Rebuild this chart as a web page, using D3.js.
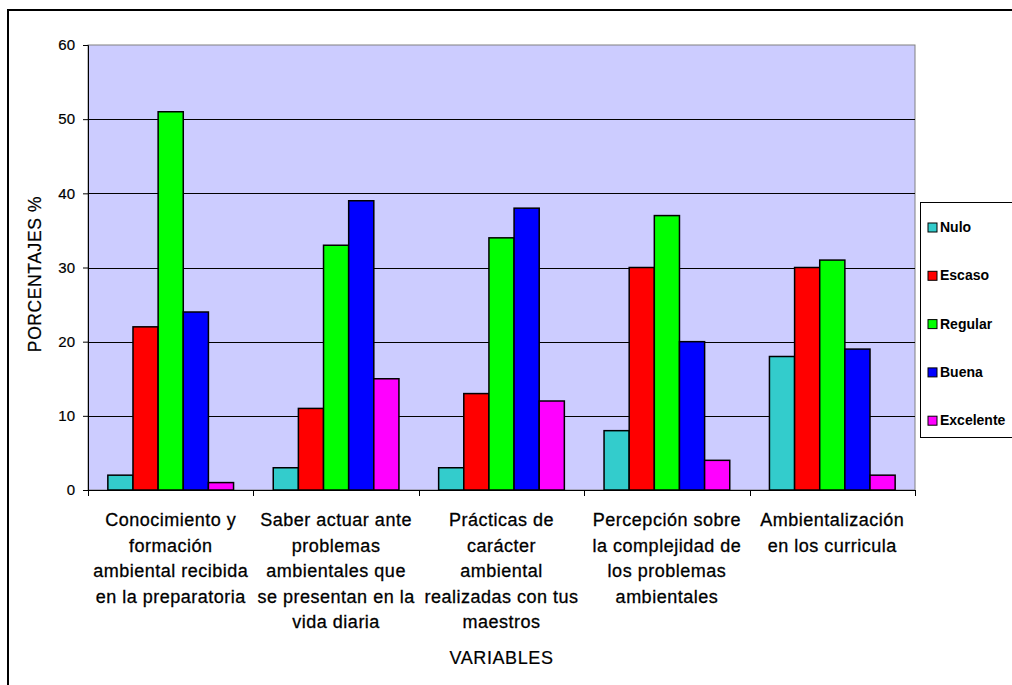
<!DOCTYPE html>
<html>
<head>
<meta charset="utf-8">
<script src="https://cdn.jsdelivr.net/npm/d3@7"></script>
<style>
  body { margin: 0; background: #fff; }
  svg text { font-family: "Liberation Sans", Arial, sans-serif; fill: #000; }
</style>
</head>
<body>
<script>
// categorias del eje X (cada una partida en lineas como en el original)
var variables = [
  ["Conocimiento y", "formación", "ambiental recibida", "en la preparatoria"],
  ["Saber actuar ante", "problemas", "ambientales que", "se presentan en la", "vida diaria"],
  ["Prácticas de", "carácter", "ambiental", "realizadas con tus", "maestros"],
  ["Percepción sobre", "la complejidad de", "los problemas", "ambientales"],
  ["Ambientalización", "en los curricula"]
];
var series = ["Nulo", "Escaso", "Regular", "Buena", "Excelente"];
var colores = ["#33CCCC", "#FF0000", "#00FF00", "#0000FF", "#FF00FF"];

// porcentajes por serie (en el orden de las variables)
var nulo      = [2, 3, 3, 8, 18];
var escaso    = [22, 11, 13, 30, 30];
var regular   = [51, 33, 34, 37, 31];
var buena     = [24, 39, 38, 20, 19];
var excelente = [1, 15, 12, 4, 2];
var valores = [nulo, escaso, regular, buena, excelente];

var yTicks = [0, 10, 20, 30, 40, 50, 60];

var W = 1012, H = 685;
var plot = {left: 88, top: 45, right: 915, bottom: 490};

var svg = d3.select("body").append("svg")
  .attr("width", W).attr("height", H);

// marco exterior
svg.append("path")
  .attr("d", "M8,700 L8,10 L1030,10")
  .attr("fill", "none").attr("stroke", "#000").attr("stroke-width", 2);

var x0 = d3.scaleBand()
  .domain(d3.range(variables.length))
  .range([plot.left, plot.right])
  .paddingInner(0.24).paddingOuter(0.12);
var x1 = d3.scaleBand()
  .domain(d3.range(series.length))
  .range([0, x0.bandwidth()]);
var y = d3.scaleLinear().domain([0, 60]).range([plot.bottom, plot.top]);

// fondo del area de trazado
svg.append("rect")
  .attr("x", plot.left).attr("y", plot.top)
  .attr("width", plot.right - plot.left).attr("height", plot.bottom - plot.top)
  .attr("fill", "#CCCCFF").attr("stroke", "#808080").attr("stroke-width", 1);

// lineas de division
svg.append("g").selectAll("line")
  .data(yTicks.filter(function(t){ return t > 0 && t < 60; }))
  .enter().append("line")
  .attr("x1", plot.left).attr("x2", plot.right)
  .attr("y1", function(d){ return Math.round(y(d)) + 0.5; })
  .attr("y2", function(d){ return Math.round(y(d)) + 0.5; })
  .attr("stroke", "#000").attr("stroke-width", 1);

// barras
var grupos = svg.append("g").selectAll("g")
  .data(series)
  .enter().append("g")
  .attr("fill", function(d, i){ return colores[i]; });

grupos.selectAll("rect")
  .data(function(d, i){ return valores[i].map(function(v, j){ return {s: i, c: j, v: v}; }); })
  .enter().append("rect")
  .attr("x", function(d){ return x0(d.c) + x1(d.s); })
  .attr("y", function(d){ return y(d.v); })
  .attr("width", x1.bandwidth())
  .attr("height", function(d){ return y(0) - y(d.v); })
  .attr("stroke", "#000").attr("stroke-width", 1.5);

// eje Y
var yAxis = svg.append("g")
  .attr("transform", "translate(" + plot.left + ",0)")
  .call(d3.axisLeft(y).tickValues(yTicks).tickSize(5).tickPadding(8));
yAxis.select(".domain").attr("stroke", "#000");
yAxis.selectAll(".tick line").attr("stroke", "#000");
yAxis.selectAll("text")
  .style("font-family", "'Liberation Sans Narrow', 'Liberation Sans', sans-serif")
  .style("font-size", "15px").attr("fill", "#000")
  .attr("stroke", "#000").attr("stroke-width", 0.2);

// eje X: linea y marcas entre categorias
svg.append("line")
  .attr("x1", plot.left).attr("x2", plot.right)
  .attr("y1", plot.bottom + 0.5).attr("y2", plot.bottom + 0.5)
  .attr("stroke", "#000");
var cortes = d3.range(variables.length + 1).map(function(i){
  return i < variables.length ? x0(i) - x0.step() * x0.paddingInner() / 2 : plot.right;
});
svg.append("g").selectAll("line")
  .data(cortes).enter().append("line")
  .attr("x1", function(d){ return Math.round(d) + 0.5; })
  .attr("x2", function(d){ return Math.round(d) + 0.5; })
  .attr("y1", plot.bottom).attr("y2", plot.bottom + 6)
  .attr("stroke", "#000");

// etiquetas de categoria
var etiquetas = svg.append("g").selectAll("text")
  .data(variables).enter().append("text")
  .attr("text-anchor", "middle")
  .style("font-size", "18px")
  .style("letter-spacing", "0.5px")
  .attr("stroke", "#000").attr("stroke-width", 0.3)
  .attr("transform", function(d, i){
    return "translate(" + (x0(i) + x0.bandwidth() / 2) + ",526)";
  });
etiquetas.selectAll("tspan")
  .data(function(d){ return d; })
  .enter().append("tspan")
  .attr("x", 0)
  .attr("y", function(d, i){ return i * 25.5; })
  .text(function(d){ return d; });

// titulos de ejes
svg.append("text")
  .attr("x", (plot.left + plot.right) / 2).attr("y", 664)
  .attr("text-anchor", "middle")
  .style("font-size", "18px")
  .style("letter-spacing", "0.6px")
  .attr("stroke", "#000").attr("stroke-width", 0.2)
  .text("VARIABLES");

svg.append("text")
  .attr("transform", "translate(41," + 274 + ") rotate(-90)")
  .attr("text-anchor", "middle")
  .style("font-size", "17.5px")
  .style("letter-spacing", "0.6px")
  .attr("stroke", "#000").attr("stroke-width", 0.2)
  .text("PORCENTAJES %");

// leyenda
var leyenda = svg.append("g").attr("transform", "translate(920,202)");
leyenda.append("rect")
  .attr("x", 0.5).attr("y", 0.5).attr("width", 120).attr("height", 235)
  .attr("fill", "#fff").attr("stroke", "#000").attr("stroke-width", 1);
var items = leyenda.selectAll("g.item")
  .data(series).enter().append("g")
  .attr("class", "item")
  .attr("transform", function(d, i){ return "translate(8," + (25 + i * 48.3) + ")"; });
items.append("rect")
  .attr("x", 0).attr("y", -4).attr("width", 9).attr("height", 9)
  .attr("fill", function(d, i){ return colores[i]; })
  .attr("stroke", "#000").attr("stroke-width", 1);
items.append("text")
  .attr("x", 12).attr("y", 5)
  .style("font-family", "'Liberation Sans Narrow', 'Liberation Sans', sans-serif")
  .style("font-size", "14px").style("font-weight", "bold")
  .text(function(d){ return d; });
</script>
</body>
</html>
